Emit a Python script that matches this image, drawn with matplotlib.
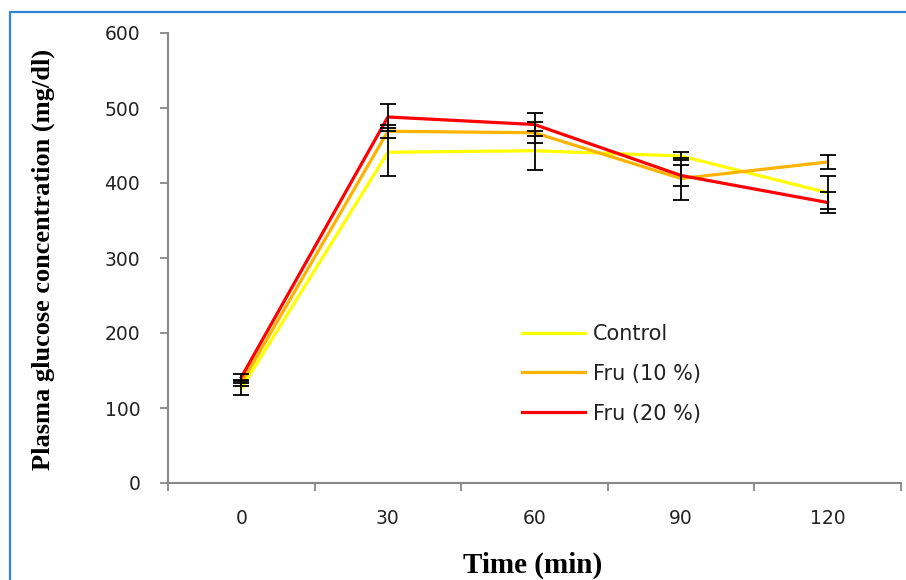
import matplotlib.pyplot as plt
from matplotlib.lines import Line2D

# time points (min) and mean plasma glucose (mg/dl) with SE
times = ["0", "30", "60", "90", "120"]
control = [126, 441, 443, 436, 387]
control_err = [8, 32, 26, 5, 22]
fru10 = [133, 469, 467, 406, 428]
fru10_err = [3, 9, 14, 28, 9]
fru20 = [141, 488, 478, 410, 374]
fru20_err = [4, 18, 15, 14, 14]

labels = ["Control", "Fru (10 %)", "Fru (20 %)"]
colors = ["#FFFF00", "#FFB300", "#FF0000"]

fig = plt.figure(figsize=(9.06, 5.8), dpi=100)
ax = fig.add_axes([168 / 906, 97 / 580, 733 / 906, 450 / 580])

x = list(range(len(times)))
for vals, errs, lab, col in zip([control, fru10, fru20],
                                [control_err, fru10_err, fru20_err],
                                labels, colors):
    ax.plot(x, vals, color=col, lw=2.3, label=lab, zorder=3)
    ax.errorbar(x, vals, yerr=errs, fmt="none", ecolor="black",
                elinewidth=1.3, capsize=6, capthick=1.3, zorder=4)

ax.set_xlim(-0.5, 4.5)
ax.set_ylim(0, 600)
ax.set_yticks(range(0, 601, 100))
ax.set_xticks([i - 0.5 for i in range(6)])
ax.set_xticklabels([])
ax.set_xticks(x, minor=True)
ax.set_xticklabels(times, minor=True)
ax.tick_params(axis="x", which="minor", length=0, pad=19)
ax.tick_params(axis="both", which="major", length=6, color="#888888", width=1.3)
ax.tick_params(axis="y", pad=14)
for lab in ax.get_xticklabels(minor=True) + ax.get_yticklabels():
    lab.set_fontsize(13.5)
    lab.set_color("#222222")

for s in ["top", "right"]:
    ax.spines[s].set_visible(False)
for s in ["left", "bottom"]:
    ax.spines[s].set_color("#888888")
    ax.spines[s].set_linewidth(1.5)

ax.set_ylabel("Plasma glucose concentration (mg/dl)", fontfamily="Liberation Serif",
              fontweight="bold", fontsize=19)
ax.yaxis.set_label_coords(-0.154, 0.496)
ax.set_xlabel("Time (min)", fontfamily="Liberation Serif",
              fontweight="bold", fontsize=21, va="center")
ax.xaxis.set_label_coords(0.497, -0.182)

leg = ax.legend(loc="upper left", bbox_to_anchor=(0.458, 0.395), frameon=False,
                fontsize=15, handlelength=3.0, labelspacing=0.95, handletextpad=0.4)
for t in leg.get_texts():
    t.set_color("#222222")

# blue frame (top and left edges visible in the original)
fig.add_artist(Line2D([10 / 906, 10 / 906, 1.0], [0.0, 1 - 12 / 580, 1 - 12 / 580],
                      transform=fig.transFigure, color="#2E86D6", lw=1.6))

fig.savefig("out.png", dpi=100)
